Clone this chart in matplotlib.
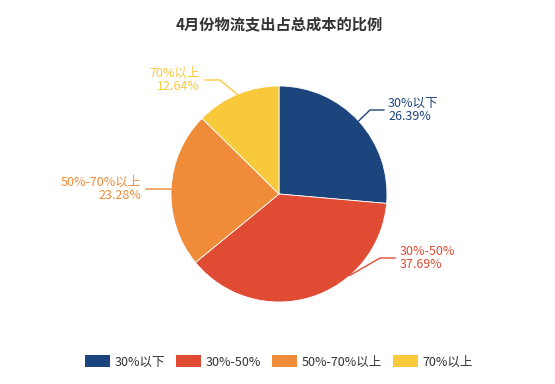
import numpy as np
import matplotlib.pyplot as plt
from matplotlib.patches import Patch

plt.rcParams['font.family'] = ['Noto Sans CJK SC', 'DejaVu Sans']

title = "4月份物流支出占总成本的比例"
labels = ["30%以下", "30%-50%", "50%-70%以上", "70%以上"]
values = [26.39, 37.69, 23.28, 12.64]
colors = ["#1d457d", "#e04b34", "#f08b39", "#f9c93c"]

# label layout (pixel coords, y measured from top)
angle_shift = [0, 24, 0, 0]
elbows = [(370, 110), (380, 258), (160, 189), (220, 80)]
ends = [(384, 110), (395, 258), (146, 189), (205, 80)]
text_x = [388, 400, 141, 200]
text_ha = ["left", "left", "right", "right"]

H = 384
cx, cy, r = 279, 194, 108

fig = plt.figure(figsize=(5.55, 3.84), dpi=100)
ax = fig.add_axes([0, 0, 1, 1])
ax.pie(values, colors=colors, startangle=90, counterclock=False,
       center=(cx, H - cy), radius=r,
       wedgeprops=dict(edgecolor="white", linewidth=0.6))
ax.set_xlim(0, 555)
ax.set_ylim(0, H)
ax.set_aspect("auto")
ax.axis("off")

total = sum(values)
start = 90.0
for i, v in enumerate(values):
    span = v / total * 360
    mid = start - span / 2 + angle_shift[i]
    start -= span
    px = cx + r * np.cos(np.radians(mid))
    py = (H - cy) + r * np.sin(np.radians(mid))
    ex, ey = elbows[i]
    tx, ty = ends[i]
    ax.plot([px, ex, tx], [py, H - ey, H - ty], color=colors[i], lw=1)
    ax.text(text_x[i], H - ty, "%s\n%.2f%%" % (labels[i], v),
            color=colors[i], fontsize=9, ha=text_ha[i], va="center",
            multialignment=text_ha[i], linespacing=1.0)

ax.text(279, H - 24, title, fontsize=11, fontweight="bold", color="#333333",
        ha="center", va="center")

handles = [Patch(facecolor=c, edgecolor="none") for c in colors]
fig.legend(handles, labels, loc="center", bbox_to_anchor=(279 / 555, 1 - 362 / H),
           ncol=4, frameon=False, fontsize=9, handlelength=1.95, handleheight=1.1,
           handletextpad=0.4, columnspacing=0.9, labelcolor="#333333")

fig.savefig("out.png", dpi=100)
